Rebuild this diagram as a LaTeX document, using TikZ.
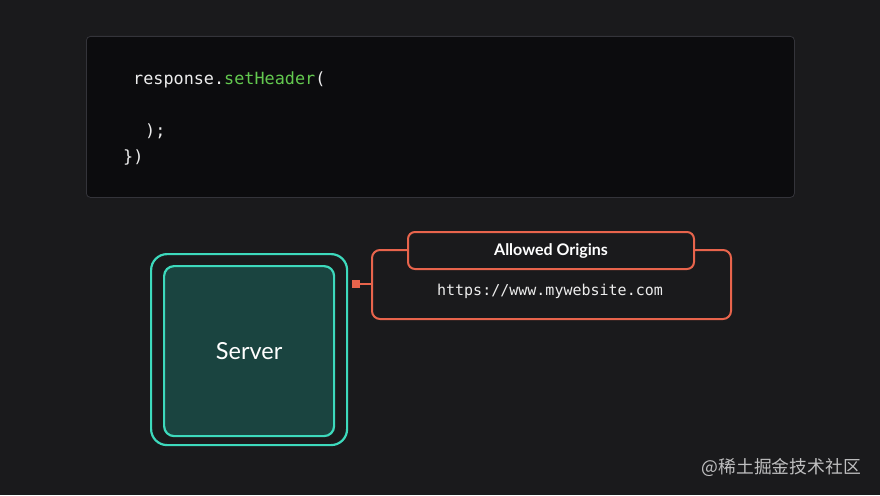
\documentclass[tikz,border=0pt]{standalone}
\usepackage{fontspec}
\setmainfont{Lato}
\setmonofont{DejaVu Sans Mono}
\newfontfamily\cjk{Noto Sans CJK SC}
\definecolor{bg}{HTML}{1A1A1C}
\definecolor{codebg}{HTML}{0C0C0E}
\definecolor{codeborder}{HTML}{34343A}
\definecolor{teal}{HTML}{3DD9BC}
\definecolor{tealfill}{HTML}{1A4440}
\definecolor{orng}{HTML}{E8644C}
\definecolor{codegreen}{HTML}{63C94F}
\definecolor{codewhite}{HTML}{EDEDED}
\begin{document}
\begin{tikzpicture}[x=1pt,y=-1pt,
  codetext/.style={font=\ttfamily\fontsize{16.8}{18}\selectfont, text=codewhite, anchor=west, inner sep=0},
  tealbox/.style={draw=teal, line width=2.2pt},
  orangebox/.style={draw=orng, line width=2pt},
]
\useasboundingbox[fill=bg] (0,0) rectangle (880,495);
% code box
\node[draw=codeborder, fill=codebg, rounded corners=4pt, line width=0.8pt, minimum width=708pt, minimum height=161pt, anchor=north west, inner sep=0] (code) at (86,36) {};
\node[codetext] (l1) at (133,80) {response.\textcolor{codegreen}{setHeader}(};
\node[codetext] (l2) at (145,131) {);};
\node[codetext] (l3) at (123,157) {\})};
% server
\node[tealbox, rounded corners=16pt, minimum width=196pt, minimum height=191pt, anchor=north west, inner sep=0] (outer) at (150,253) {};
\node[tealbox, fill=tealfill, rounded corners=10pt, minimum width=170pt, minimum height=170pt, anchor=north west, inner sep=0] (inner) at (163,265) {};
\node[text=white, font=\fontsize{23.5}{26}\selectfont] (srv) at (inner.center) {Server};
% origins
\node[orangebox, rounded corners=8pt, minimum width=359pt, minimum height=69pt, anchor=north west, inner sep=0] (origins) at (371,249) {};
\node[orangebox, fill=bg, rounded corners=7pt, minimum width=286pt, minimum height=37pt, anchor=north west, inner sep=0, text=white, font=\bfseries\fontsize{16}{18}\selectfont] (hdr) at (407,231) {Allowed Origins};
\node[text=codewhite, font=\ttfamily\fontsize{15}{17}\selectfont, inner sep=0] (url) at (550,291) {https://www.mywebsite.com};
% connector
\node[fill=orng, minimum size=7.5pt, inner sep=0] (sq) at (356,284) {};
\draw[orng, line width=2pt] (sq.center) -- (origins.west |- sq.center);
% watermark
\node[text=white!72!bg, font=\cjk\fontsize{17.8}{20}\selectfont, anchor=east, inner sep=0] (wm) at (861,467) {@稀土掘金技术社区};
\end{tikzpicture}
\end{document}
